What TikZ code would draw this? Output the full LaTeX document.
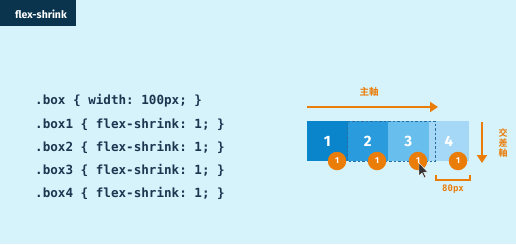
\documentclass[tikz,border=0pt]{standalone}
\usepackage{fontspec}
\setmainfont{Fira Sans}
\setmonofont{DejaVu Sans Mono}
\newfontfamily\cjkfont{Noto Sans CJK JP}[BoldFont={Noto Sans CJK JP Bold}]
\usetikzlibrary{arrows.meta}
\definecolor{bgcyan}{RGB}{214,243,252}
\definecolor{navy}{RGB}{10,52,78}
\definecolor{codeink}{RGB}{28,54,80}
\definecolor{flexorange}{RGB}{234,124,8}
\definecolor{boxA}{RGB}{10,132,202}
\definecolor{boxB}{RGB}{42,156,222}
\definecolor{boxC}{RGB}{104,190,236}
\definecolor{boxD}{RGB}{164,216,246}
\definecolor{dashblue}{RGB}{40,110,160}
\tikzset{
  codeline/.style={anchor=west, inner sep=0pt, text=codeink,
    font=\ttfamily\bfseries\fontsize{12.6}{14}\selectfont},
  flexbox/.style={minimum width=40.5pt, minimum height=40pt, inner sep=0pt,
    text=white, font=\bfseries\fontsize{15}{17}\selectfont},
  badge/.style={circle, fill=flexorange, minimum size=18.5pt, inner sep=0pt,
    text=white, font=\bfseries\fontsize{8.5}{9}\selectfont},
  axisarrow/.style={draw=flexorange, line width=2.4pt,
    -{Triangle[length=8pt,width=10pt]}},
  axislabel/.style={text=flexorange, inner sep=0pt,
    font=\cjkfont\bfseries\fontsize{9.5}{10}\selectfont},
}
\begin{document}
\begin{tikzpicture}[x=1pt,y=-1pt]
  \useasboundingbox (0,0) rectangle (516,244);
  \fill[bgcyan] (0,0) rectangle (516,244);

  % title tab
  \fill[navy] (0,0) rectangle (76,26);
  \node[text=white, inner sep=0pt, font=\bfseries\fontsize{10.5}{12}\selectfont]
    (title) at (41,14) {flex-shrink};

  % CSS rules
  \node[codeline] (c0) at (35,101) {.box \{ width: 100px; \}};
  \node[codeline] (c1) at (35,124) {.box1 \{ flex-shrink: 1; \}};
  \node[codeline] (c2) at (35,147) {.box2 \{ flex-shrink: 1; \}};
  \node[codeline] (c3) at (35,170) {.box3 \{ flex-shrink: 1; \}};
  \node[codeline] (c4) at (35,193) {.box4 \{ flex-shrink: 1; \}};

  % flex items
  \node[flexbox, fill=boxA] (b1) at (327.25,141) {1};
  \node[flexbox, fill=boxB] (b2) at (367.75,141) {2};
  \node[flexbox, fill=boxC] (b3) at (408.25,141) {3};
  \node[flexbox, fill=boxD] (b4) at (448.75,141) {4};
  % original extent of items 2 and 3
  \draw[dashblue, dashed, line width=0.8pt, dash pattern=on 2.5pt off 2pt]
    (b2.south west) rectangle (435,121);

  % shrink factors
  \node[badge] (s1) at (337,161) {1};
  \node[badge] (s2) at (377,161) {1};
  \node[badge] (s3) at (418,161) {1};
  \node[badge] (s4) at (458,161) {1};

  % mouse pointer
  \fill[black!80, draw=white, line width=0.4pt]
    (419,163) -- (419,176) -- (422,173) -- (424.5,178) -- (426,177.2)
    -- (423.6,172.3) -- (427.5,172) -- cycle;

  % main axis
  \coordinate (m0) at (307,107);
  \coordinate (m1) at (438,107);
  \draw[axisarrow] (m0) -- (m1);
  \node[axislabel] (mlabel) at (369,92) {主軸};

  % cross axis
  \coordinate (x0) at (482,122);
  \coordinate (x1) at (482,163);
  \draw[axisarrow] (x0) -- (x1);
  \node[axislabel, align=center, font=\cjkfont\bfseries\fontsize{9}{10}\selectfont]
    (xlabel) at (503,143) {交\\差\\軸};

  % 80px bracket
  \coordinate (k0) at (436,175);
  \coordinate (k1) at (470,175);
  \draw[flexorange, line width=1.1pt] (k0) -- ++(0,5) -| (k1);
  \node[text=flexorange, inner sep=0pt,
    font=\ttfamily\bfseries\fontsize{9}{10}\selectfont] (w) at (453,189) {80px};
\end{tikzpicture}
\end{document}
